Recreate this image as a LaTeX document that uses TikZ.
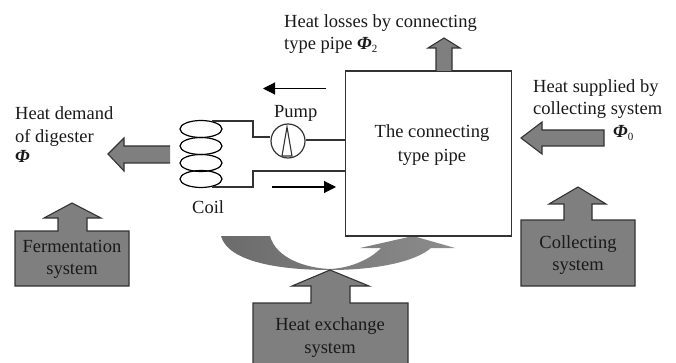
\documentclass[tikz,border=0pt]{standalone}
\usepackage{fontspec}
\setmainfont{Liberation Serif}
\usetikzlibrary{arrows.meta,shapes.geometric}
\definecolor{blockgray}{HTML}{7F7F7F}
\definecolor{linegray}{HTML}{333333}
\tikzset{
  block/.style={fill=blockgray,draw=linegray,line width=1.1pt,line join=miter},
  pipe/.style={draw=linegray,line width=1.1pt},
  flow/.style={draw=black,line width=1.1pt,-{Triangle[length=12pt,width=12pt]}},
  lbl/.style={inner sep=0pt,anchor=base west,text=black!90,font=\fontsize{18.5}{22}\selectfont},
  ctr/.style={lbl,anchor=base},
  coilring/.style={ellipse,draw=black,line width=1.2pt,minimum width=42pt,minimum height=17pt,inner sep=0pt},
  pumpc/.style={circle,draw=linegray,line width=1.2pt,minimum size=34pt,inner sep=0pt},
  mainbox/.style={rectangle,draw=linegray,line width=1.1pt,inner sep=0pt}
}
\newcommand{\Ph}{\textbf{\textit{Φ}}}
\begin{document}
\begin{tikzpicture}[x=1pt,y=-1pt]
\useasboundingbox (0,0) rectangle (676,363);
% curved exchange arrow
\shade[left color=black!58,right color=black!45]
  (221,236) -- (270,236) .. controls (276,258) and (305,268) .. (330,269)
  .. controls (352,268) and (372,258) .. (381,248) -- (360,248) -- (413,236) -- (455,248) -- (431,248)
  .. controls (415,262) and (375,270) .. (330,270)
  .. controls (280,270) and (228,262) .. (221,236) -- cycle;
% main box
\node[mainbox,minimum width=166pt,minimum height=165pt] (pipebox) at (428.5,153.5) {};
\node[ctr] (t1) at (432,138) {The connecting};
\node[ctr] (t2) at (432,162) {type pipe};
% coil
\node[coilring] (c1) at (201,129) {};
\node[coilring] (c2) at (201,146) {};
\node[coilring] (c3) at (201,163) {};
\node[coilring] (c4) at (201,179) {};
% pump
\node[pumpc] (pump) at (288,141) {};
\coordinate (ptop) at (287,127);
\coordinate (pl) at (282,156);
\coordinate (pr) at (292,156);
\draw[pipe] (pl) -- (ptop) -- (pr) -- cycle;
\node[lbl] (pumpl) at (274,118) {Pump};
% pipes
\coordinate (j1) at (253,121);
\coordinate (j2) at (253,137);
\coordinate (j3) at (253,187);
\coordinate (j4) at (253,171);
\coordinate (c1e) at (212,121);
\coordinate (c4e) at (212,187);
\coordinate (b1) at (345.5,140);
\coordinate (b2) at (345.5,171);
\draw[pipe] (c1e) -- (j1) -- (j2) -- (pump.west |- j2);
\draw[pipe] (pump.east |- b1) -- (b1);
\draw[pipe] (c4e) -- (j3) -- (j4) -- (b2);
% flow arrows
\coordinate (f1s) at (326,88.5);
\coordinate (f1e) at (263,88.5);
\coordinate (f2s) at (272,187);
\coordinate (f2e) at (336,187);
\draw[flow] (f1s) -- (f1e);
\draw[flow] (f2s) -- (f2e);
% block arrows
\draw[block] (436,71) -- (436,48) -- (428,48) -- (444,38) -- (460,48) -- (452,48) -- (452,71);
\draw[block] (604,130) -- (542,130) -- (542,122) -- (521,138) -- (542,154) -- (542,146) -- (604,146) -- cycle;
\fill[blockgray] (170,146) -- (124,146) -- (124,138) -- (108,154) -- (124,171) -- (124,163) -- (170,163) -- cycle;
\draw[pipe] (170,146) -- (124,146) -- (124,138) -- (108,154) -- (124,171) -- (124,163) -- (170,163);
% system blocks
\draw[block] (15,231) -- (58,231) -- (58,218) -- (44,218) -- (72,203) -- (101,218) -- (87,218) -- (87,231) -- (129,231) -- (129,286) -- (15,286) -- cycle;
\node[ctr] (fer1) at (72,252) {Fermentation};
\node[ctr] (fer2) at (72,274) {system};
\draw[block] (521,220) -- (564,220) -- (564,204) -- (549,204) -- (578,187) -- (606,204) -- (592,204) -- (592,220) -- (635,220) -- (635,286) -- (521,286) -- cycle;
\node[ctr] (col1) at (578,248) {Collecting};
\node[ctr] (col2) at (578,270) {system};
\draw[block] (253,303) -- (311,303) -- (311,286) -- (292,286) -- (330,270) -- (369,286) -- (350,286) -- (350,303) -- (408,303) -- (408,364) -- (253,364) -- cycle;
\node[ctr] (ex1) at (330,330) {Heat exchange};
\node[ctr] (ex2) at (330,353) {system};
% labels
\node[lbl] (hl1) at (284,28) {Heat losses by connecting};
\node[lbl] (hl2) at (284,50) {type pipe \Ph\raisebox{-3pt}{\fontsize{11}{11}\selectfont 2}};
\node[lbl] (hd1) at (15,120) {Heat demand};
\node[lbl] (hd2) at (15,143) {of digester};
\node[lbl] (hd3) at (15,163) {\Ph};
\node[lbl] (hs1) at (533,93) {Heat supplied by};
\node[lbl] (hs2) at (533,115) {collecting system};
\node[lbl] (hs3) at (613,138) {\Ph\raisebox{-3pt}{\fontsize{11}{11}\selectfont 0}};
\node[lbl] (coil) at (192,213) {Coil};
\end{tikzpicture}
\end{document}
